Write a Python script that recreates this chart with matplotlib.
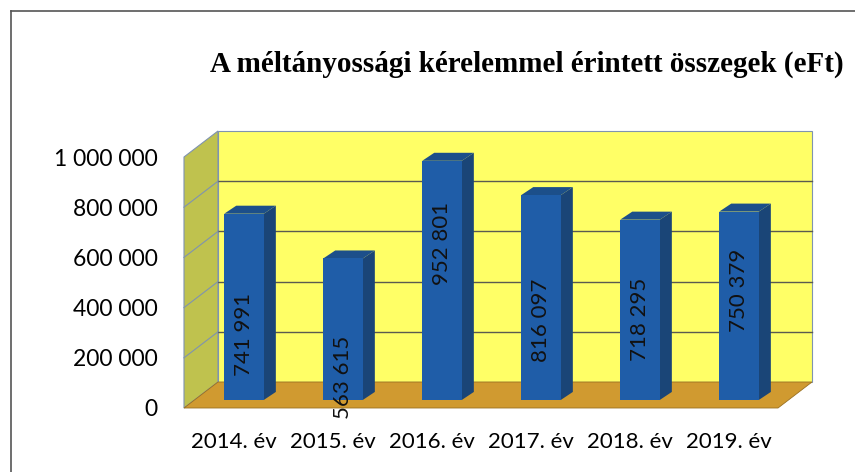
import matplotlib.pyplot as plt
from matplotlib.patches import Polygon
from matplotlib.lines import Line2D

# data
years = ["2014. év", "2015. év", "2016. év", "2017. év", "2018. év", "2019. év"]
amounts = [741991, 563615, 952801, 816097, 718295, 750379]
y_ticks = [0, 200000, 400000, 600000, 800000, 1000000]

# where Excel put the rotated value labels (value units, along the bar)
label_y = [259000, 88000, 622000, 319000, 319000, 438000]

W, H = 855, 472
DEPTH = (34, 26)      # px offset of back wall from front plane
BAR_D = 0.31          # bar front plane depth (fraction)
BAR_SIDE = (12, 8)    # px depth of each bar
BAR_W = 0.40

C_BACK = "#FFFF66"
C_LEFT = "#BFC24E"
C_FLOOR = "#D09A30"
C_EDGE = "#7F93B0"
C_GRID = "#5A5A50"
C_FRONT = "#1F5DA8"
C_SIDE = "#1A4577"
C_TOP = "#1C4F8A"

fig = plt.figure(figsize=(W / 100, H / 100), dpi=100)
ax = fig.add_axes([184 / W, (H - 408) / H, 594 / W, 251 / H])
ax.set_xlim(-0.5, len(years) - 0.5)
ax.set_ylim(0, 1000000)

px_x = 594 / len(years)      # px per category
px_y = 251 / 1000000         # px per value unit


def off(px):
    return px[0] / px_x, px[1] / px_y


def poly(pts, fc, ec="none", lw=0.8, z=1):
    ax.add_patch(Polygon(pts, closed=True, facecolor=fc, edgecolor=ec,
                         linewidth=lw, clip_on=False, zorder=z))


x0, x1 = -0.5, len(years) - 0.5
ox, oy = off(DEPTH)
top = y_ticks[-1]

# walls and floor
poly([(x0 + ox, oy), (x1 + ox, oy), (x1 + ox, top + oy), (x0 + ox, top + oy)], C_BACK, C_EDGE)
poly([(x0, 0), (x0, top), (x0 + ox, top + oy), (x0 + ox, oy)], C_LEFT, C_EDGE)
poly([(x0, 0), (x1, 0), (x1 + ox, oy), (x0 + ox, oy)], C_FLOOR, "#9A7020", 0.6)

# gridlines on back and left walls
for v in y_ticks[1:-1]:
    ax.add_line(Line2D([x0 + ox, x1 + ox], [v + oy, v + oy], color=C_GRID,
                       lw=1.0, clip_on=False, zorder=2))
    ax.add_line(Line2D([x0, x0 + ox], [v, v + oy], color=C_EDGE,
                       lw=0.8, clip_on=False, zorder=2))

# bars
bx, by = off((DEPTH[0] * BAR_D, DEPTH[1] * BAR_D))
sx, sy = off(BAR_SIDE)
for i, v in enumerate(amounts):
    l = i - BAR_W / 2 + bx
    r = i + BAR_W / 2 + bx
    b = by
    t = v + by
    poly([(r, b), (r + sx, b + sy), (r + sx, t + sy), (r, t)], C_SIDE, z=3)
    poly([(l, t), (r, t), (r + sx, t + sy), (l + sx, t + sy)], C_TOP, z=3)
    ax.bar(i + bx, v, bottom=by, width=BAR_W, color=C_FRONT, zorder=4, clip_on=False)
    ax.text(i + bx, label_y[i] + by, f"{v:,}".replace(",", " "), rotation=90,
            ha="center", va="center", fontsize=16, family="Lato", color="#111111",
            zorder=5, clip_on=False)

# axes cosmetics
for s in ax.spines.values():
    s.set_visible(False)
ax.patch.set_visible(False)
ax.set_yticks(y_ticks)
ax.set_yticklabels([f"{v:,}".replace(",", " ") for v in y_ticks])
ax.set_xticks(range(len(years)))
ax.set_xticklabels(years)
ax.tick_params(axis="y", length=0, pad=19, labelsize=16.5)
ax.tick_params(axis="x", length=0, pad=17, labelsize=16)
for lab in ax.get_xticklabels() + ax.get_yticklabels():
    lab.set_family("Lato")

fig.text(527 / W, 1 - 64 / H, "A méltányossági kérelemmel érintett összegek (eFt)",
         ha="center", va="center", fontsize=21, fontweight="bold",
         family="Liberation Serif")

# chart frame (left and top edges visible)
fig.add_artist(Line2D([11 / W, 11 / W], [0, 1 - 11 / H], color="#555555", lw=1.2))
fig.add_artist(Line2D([11 / W, 1], [1 - 11 / H, 1 - 11 / H], color="#555555", lw=1.2))

fig.savefig("out.png", dpi=100)
